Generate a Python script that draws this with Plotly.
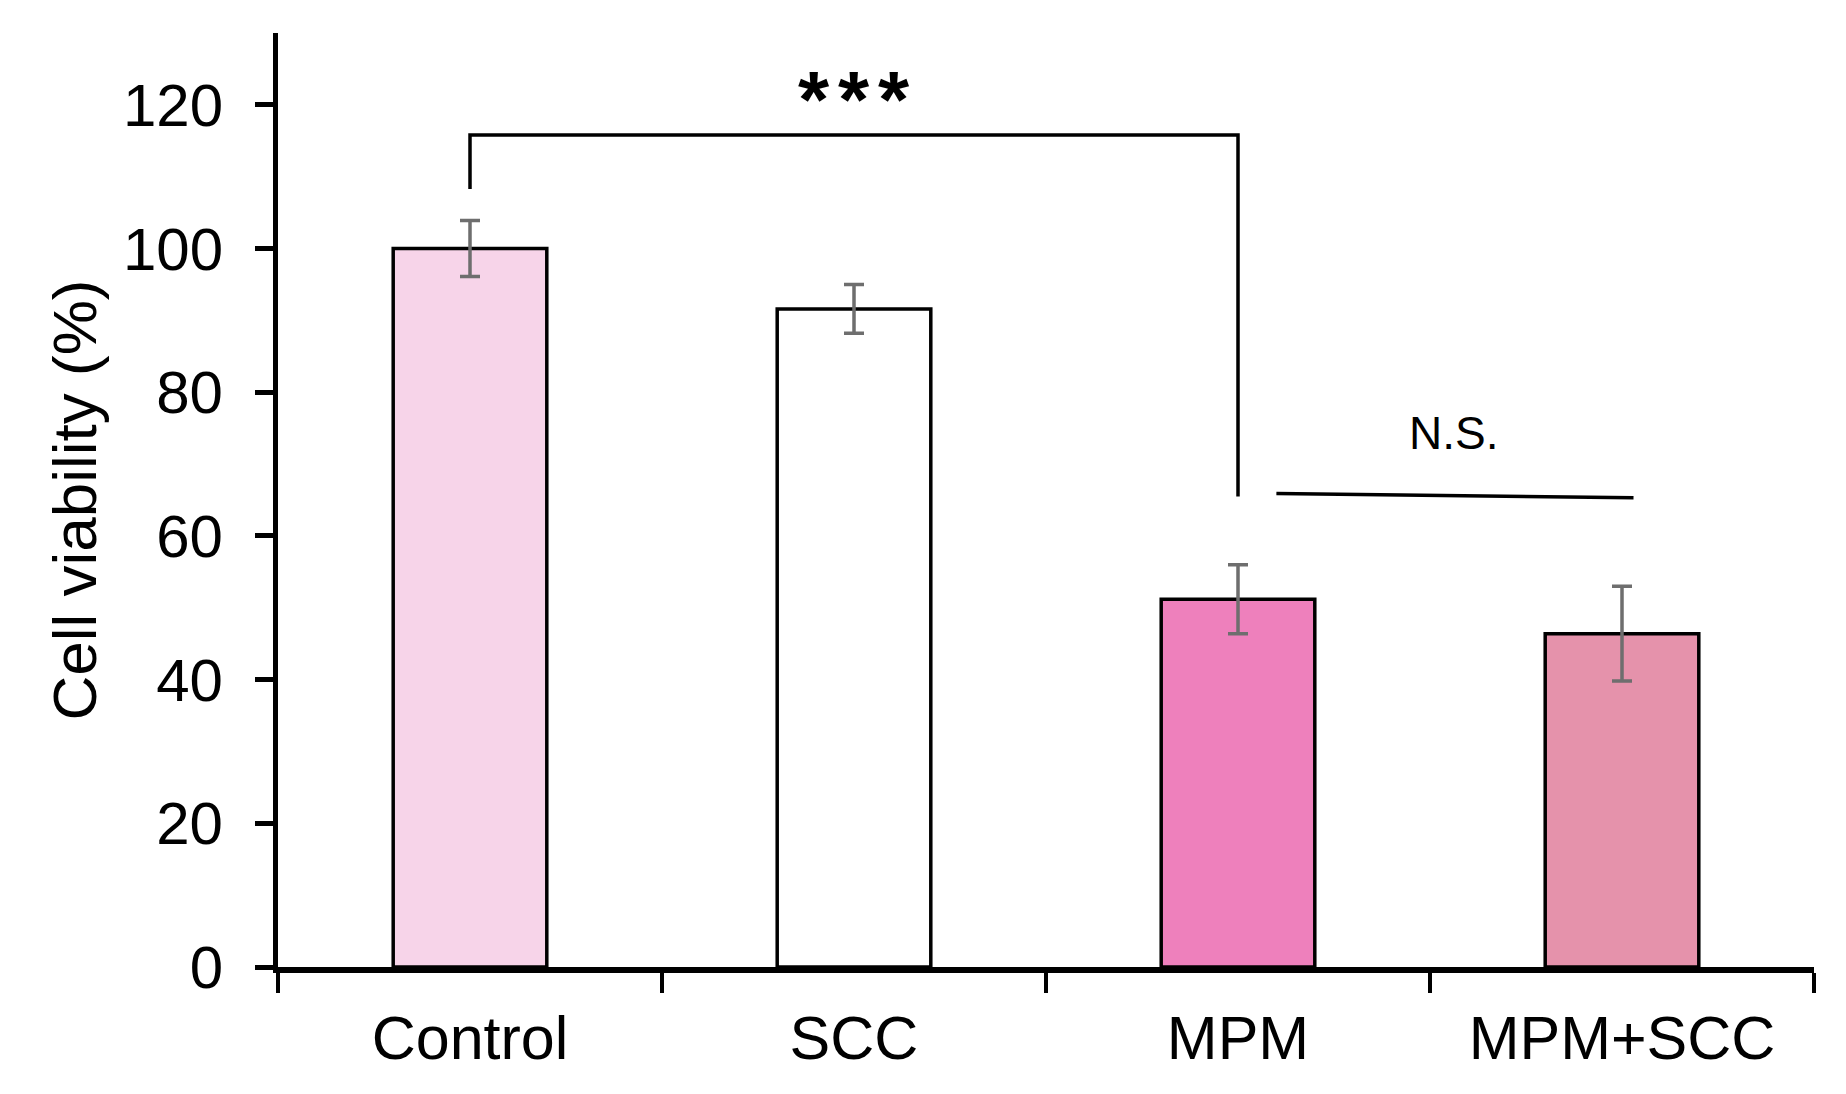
import plotly.graph_objects as go

categories = ["Control", "SCC", "MPM", "MPM+SCC"]
viability = [100.0, 91.6, 51.2, 46.4]
errors = [3.9, 3.4, 4.8, 6.6]
bar_colors = ["#F7D4E9", "#FFFFFF", "#EE80BC", "#E592AB"]
y_ticks = [0, 20, 40, 60, 80, 100, 120]

# significance bracket (Control vs MPM) and N.S. line (MPM vs MPM+SCC)
bracket_x = ["Control", "Control", "MPM", "MPM"]
bracket_y = [108.3, 115.8, 115.8, 65.5]
ns_x = [2.1, 3.03]
ns_y = [65.9, 65.3]

FONT = "Liberation Sans, Arial, sans-serif"

fig = go.Figure()
fig.add_trace(go.Bar(
    x=categories, y=viability, width=0.4,
    marker=dict(color=bar_colors, line=dict(color="black", width=3.5)),
    error_y=dict(type="data", array=errors, visible=True,
                 color="#6E6E6E", thickness=3.5, width=10),
    showlegend=False,
))
fig.add_trace(go.Scatter(
    x=bracket_x, y=bracket_y, mode="lines",
    line=dict(color="black", width=3.5), showlegend=False, hoverinfo="skip",
))
fig.add_shape(type="line", xref="x", yref="y",
              x0=ns_x[0], x1=ns_x[1], y0=ns_y[0], y1=ns_y[1],
              line=dict(color="black", width=3.5))

# "***" drawn as three spaced asterisks
for shift in (-40, 0, 40):
    fig.add_annotation(x=1, y=114.3, xref="x", yref="y", text="<b>*</b>",
                       showarrow=False, yanchor="bottom", xshift=shift,
                       font=dict(family=FONT, size=80, color="black"))
fig.add_annotation(x=2.56, y=74.3, xref="x", yref="y", text="N.S.",
                   showarrow=False, yanchor="middle",
                   font=dict(family=FONT, size=46, color="black"))

fig.update_layout(
    width=1846, height=1094,
    margin=dict(l=270, r=40, t=25, b=135),
    paper_bgcolor="white", plot_bgcolor="white",
    font=dict(family=FONT, size=60, color="black"),
    bargap=0.6,
    xaxis=dict(
        type="category", categoryorder="array", categoryarray=categories,
        range=[-0.5, 3.5],
        showline=True, linecolor="black", linewidth=6,
        ticks="outside", tickson="boundaries", ticklen=20, tickwidth=4,
        tickcolor="black", showgrid=False, zeroline=False,
        tickfont=dict(family=FONT, size=61, color="black"),
        ticklabelstandoff=13,
    ),
    yaxis=dict(
        range=[0, 130], tickvals=y_ticks,
        showline=True, linecolor="black", linewidth=5,
        ticks="outside", ticklen=18, tickwidth=5, tickcolor="black",
        showgrid=False, zeroline=False,
        tickfont=dict(family=FONT, size=60, color="black"),
        ticklabelstandoff=20,
        title=dict(text="Cell viability (%)", standoff=8,
                   font=dict(family=FONT, size=62, color="black")),
    ),
)

fig.write_html("out.html")
